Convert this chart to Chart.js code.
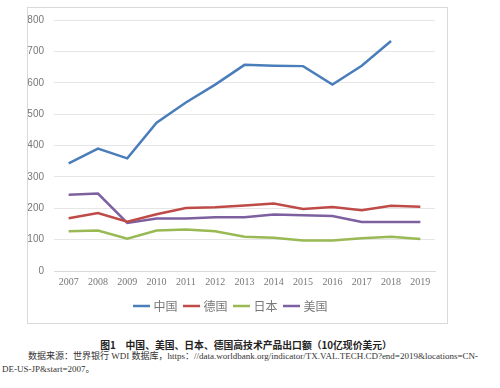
<!DOCTYPE html>
<html>
<head>
<meta charset="utf-8">
<script src="https://cdn.jsdelivr.net/npm/chart.js@4"></script>
<style>
  body { margin: 0; background: #fff; width: 500px; height: 388px; position: relative; overflow: hidden; }
  #box { position: absolute; left: 27px; top: 7px; width: 419px; height: 315px; border: 1px solid #d9d9d9; }
  #box canvas { display: block; position: absolute; left: 0; top: -4px; }
  #cap { position: absolute; left: 0; width: 492px; top: 338px; text-align: center; font: bold 9.8px "Noto Sans CJK SC", sans-serif; color: #222; }
  #src { position: absolute; left: 2px; width: 496px; top: 350px; font: 9px/13px "Liberation Serif", "Noto Sans CJK SC", serif; color: #333; text-indent: 26px; white-space: nowrap; }
</style>
</head>
<body>
<div id="box"><canvas id="myChart" width="419" height="319"></canvas></div>
<div id="cap">图1　中国、美国、日本、德国高技术产品出口额（10亿现价美元）</div>
<div id="src">数据来源：世界银行 WDI 数据库，https：//data.worldbank.org/indicator/TX.VAL.TECH.CD?end=2019&amp;locations=CN-<br>DE-US-JP&amp;start=2007。</div>
<script>
var years = ['2007', '2008', '2009', '2010', '2011', '2012', '2013', '2014', '2015', '2016', '2017', '2018', '2019'];
var china = [343, 390, 359, 473, 537, 594, 657, 654, 653, 594, 654, 733, null];
var germany = [168, 185, 157, 181, 201, 203, 209, 215, 198, 204, 194, 208, 205];
var japan = [127, 129, 103, 129, 132, 127, 109, 106, 97, 97, 104, 109, 102];
var usa = [243, 247, 153, 167, 167, 171, 171, 180, 178, 175, 156, 156, 156];
var yTicks = [0, 100, 200, 300, 400, 500, 600, 700, 800];

function plot() {
    const ctx = document.getElementById('myChart').getContext('2d');
    const mk = function (label, data, color) {
        return {
            label: label,
            data: data,
            borderColor: color,
            backgroundColor: color,
            borderWidth: 2.5,
            pointRadius: 0,
            tension: 0,
            spanGaps: false
        };
    };
    const config = {
        type: 'line',
        data: {
            labels: years,
            datasets: [
                mk('中国', china, '#4a7ebb'),
                mk('德国', germany, '#be4b48'),
                mk('日本', japan, '#98b954'),
                mk('美国', usa, '#7d60a0')
            ]
        },
        options: {
            responsive: false,
            animation: false,
            layout: { padding: { left: 0, right: 12, top: 3, bottom: 1 } },
            scales: {
                x: {
                    offset: true,
                    grid: { display: false, drawTicks: false },
                    border: { color: '#d9d9d9' },
                    ticks: { color: '#777', font: { family: 'Liberation Serif', size: 10 }, maxRotation: 0, padding: 5 },
                    afterFit: function (s) { s.height = 21; }
                },
                y: {
                    min: 0,
                    max: 800,
                    afterBuildTicks: function (s) { s.ticks = yTicks.map(function (v) { return { value: v }; }); },
                    grid: { color: '#e6e6e6', drawTicks: false },
                    border: { display: false },
                    ticks: { color: '#777', font: { family: 'Liberation Sans', size: 10 }, padding: 10 },
                    afterFit: function (s) { s.width = 26; }
                }
            },
            plugins: {
                legend: {
                    position: 'bottom',
                    labels: {
                        usePointStyle: true,
                        pointStyle: 'line',
                        boxWidth: 22,
                        color: '#777',
                        font: { family: 'Noto Sans CJK SC', size: 12 },
                        padding: 8
                    }
                },
                tooltip: { enabled: false }
            }
        }
    };
    plot.myChart = new Chart(ctx, config);
}
plot();
</script>
</body>
</html>
